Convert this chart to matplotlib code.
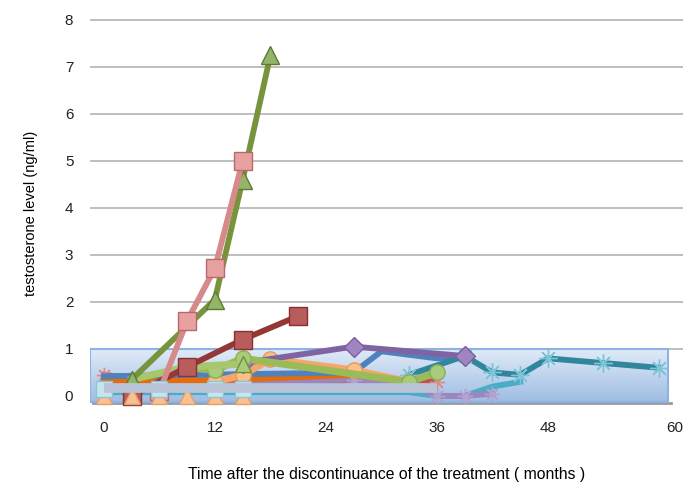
import numpy as np
import matplotlib.pyplot as plt
from matplotlib.patches import Rectangle
from matplotlib.transforms import ScaledTranslation

plt.rcParams['font.family'] = ['Liberation Sans', 'DejaVu Sans']

# months after discontinuance, testosterone (ng/ml)
olive_x = [3, 12, 15, 18]
olive_y = [0.35, 2.05, 4.6, 7.25]
pink_x = [6, 9, 12, 15]
pink_y = [0.1, 1.6, 2.72, 5.0]
darkred_x = [3, 9, 15, 21]
darkred_y = [0.0, 0.62, 1.2, 1.7]
lgreen_tri_x = [3, 9, 15]
lgreen_tri_y = [0.35, 0.62, 0.68]
lgreen_circ_x = [9, 12, 15, 33, 36]
lgreen_circ_y = [0.6, 0.55, 0.8, 0.3, 0.5]
peach_x = [12, 15, 18, 27, 33]
peach_y = [0.3, 0.45, 0.78, 0.55, 0.3]
orange_x = [0, 15, 27, 33]
orange_y = [0.3, 0.35, 0.45, 0.3]
purple_x = [15, 27, 39]
purple_y = [0.7, 1.05, 0.85]
lpurple_x = [0, 15, 27, 33, 36, 39, 42]
lpurple_y = [0.25, 0.3, 0.35, 0.25, 0.0, 0.0, 0.05]
teal_x = [33, 39, 42, 45, 48, 54, 60]
teal_y = [0.45, 0.85, 0.5, 0.45, 0.8, 0.7, 0.6]
blue_x = [0, 27, 30, 36, 39]
blue_y = [0.42, 0.5, 0.95, 0.8, 0.85]
red_x = [0, 6, 15, 27, 33, 36]
red_y = [0.45, 0.3, 0.35, 0.3, 0.35, 0.3]
grey_x = [0, 36]
grey_y = [0.17, 0.17]
cyan_x = [0, 33, 36, 39, 42, 45]
cyan_y = [0.08, 0.08, 0.0, 0.0, 0.2, 0.3]
tri0_x = [0, 3, 6, 9, 12, 15]
tri0_y = [0, 0, 0, 0, 0, 0]
sq_x = [0, 6, 12, 15]
sq_y = [0.15, 0.15, 0.15, 0.15]

xticks = [0, 12, 24, 36, 48, 60]
yticks = [0, 1, 2, 3, 4, 5, 6, 7, 8]

fig = plt.figure(figsize=(6.83, 4.83), dpi=100)
ax = fig.add_axes([0.1318, 0.151, 0.8682, 0.8125])
ax.set_xlim(-1.5, 62.6)
ax.set_ylim(-0.3, 8.05)

for v in yticks[1:]:
    ax.axhline(v, color='#b3b3b3', lw=1.2, zorder=0)

# normal range box
grad = np.linspace(0, 1, 100).reshape(-1, 1)
top = np.array([0.88, 0.92, 0.97])
bot = np.array([0.62, 0.74, 0.89])
img = top * (1 - grad[..., None]) + bot * grad[..., None]
img = img.reshape(100, 1, 3)
ax.imshow(img, extent=(-1.5, 61.0, -0.12, 1.0), aspect='auto', zorder=1, origin='upper')
ax.add_patch(Rectangle((-1.5, -0.12), 62.5, 1.12, fill=False, ec='#8db3e2', lw=1.5, zorder=2))
ax.plot([-1.2, 61.3], [-0.15, -0.15], color='#999999', lw=2, zorder=1)

lw = 4.2
ax.plot(grey_x, grey_y, color='#b9c4d8', lw=7, zorder=6, solid_capstyle='butt')
ax.plot(cyan_x, cyan_y, color='#4bacc6', lw=lw, zorder=3)
ax.plot(tri0_x, tri0_y, ls='none', marker='^', ms=11, mfc='#fac090', mec='#e0a070', zorder=5)
ax.plot(sq_x, sq_y, ls='none', marker='s', ms=11, mfc='#c6e6ef', mec='#8cc4d6', zorder=5)
ax.plot(red_x, red_y, color='#c0504d', lw=lw, marker=(8, 2, 0), ms=11, mec='#e08a88', zorder=3)
ax.plot(lpurple_x, lpurple_y, color='#9b87bd', lw=lw, marker=(8, 2, 0), ms=11, mec='#b3a2d0', zorder=3)
ax.plot(orange_x, orange_y, color='#e46c0a', lw=lw, zorder=3)
ax.plot(blue_x, blue_y, color='#4f81bd', lw=lw, zorder=3)
ax.plot(teal_x, teal_y, color='#31859c', lw=lw, marker=(8, 2, 0), ms=13, mec='#7cc5d8', zorder=4)
ax.plot(peach_x, peach_y, color='#f7a66a', lw=lw + 1, marker='o', ms=11, mfc='#fbbf8a', mec='#e59a5c', zorder=4)
ax.plot(purple_x, purple_y, color='#8064a2', lw=lw, marker='D', ms=10, mfc='#9f86c0', mec='#7a5f9c', zorder=4)
ax.plot(lgreen_circ_x, lgreen_circ_y, color='#9bbb59', lw=lw + 1, marker='o', ms=11, mfc='#a9cc7a', mec='#8aae57', zorder=4)
ax.plot(lgreen_tri_x, lgreen_tri_y, color='#a6c76e', lw=lw + 1, marker='^', ms=12, mfc='#a9cc7a', mec='#6f8f3c', zorder=4)
ax.plot(darkred_x, darkred_y, color='#953735', lw=lw, marker='s', ms=13, mfc='#b85c5c', mec='#8a3030', zorder=4)
ax.plot(olive_x, olive_y, color='#77933c', lw=lw, marker='^', ms=13, mfc='#93b56a', mec='#5f7a30', zorder=4)
ax.plot(pink_x, pink_y, color='#d68a8a', lw=lw, marker='s', ms=13, mfc='#e8a0a0', mec='#b86a6a', zorder=4)

ax.set_xticks(xticks)
ax.set_yticks(yticks)
for s in ax.spines.values():
    s.set_visible(False)
ax.tick_params(length=0, labelsize=11, colors='#222222')
ax.tick_params(axis='x', pad=8)
ax.tick_params(axis='y', pad=12)
lbl = ax.get_xticklabels()[-1]
lbl.set_transform(lbl.get_transform() + ScaledTranslation(0.16, 0, fig.dpi_scale_trans))

ax.set_ylabel('testosterone level (ng/ml)', fontsize=10.5, labelpad=19)
ax.set_xlabel('Time after the discontinuance of the treatment ( months )', fontsize=11.3, labelpad=23)

fig.savefig('out.png', dpi=100)
